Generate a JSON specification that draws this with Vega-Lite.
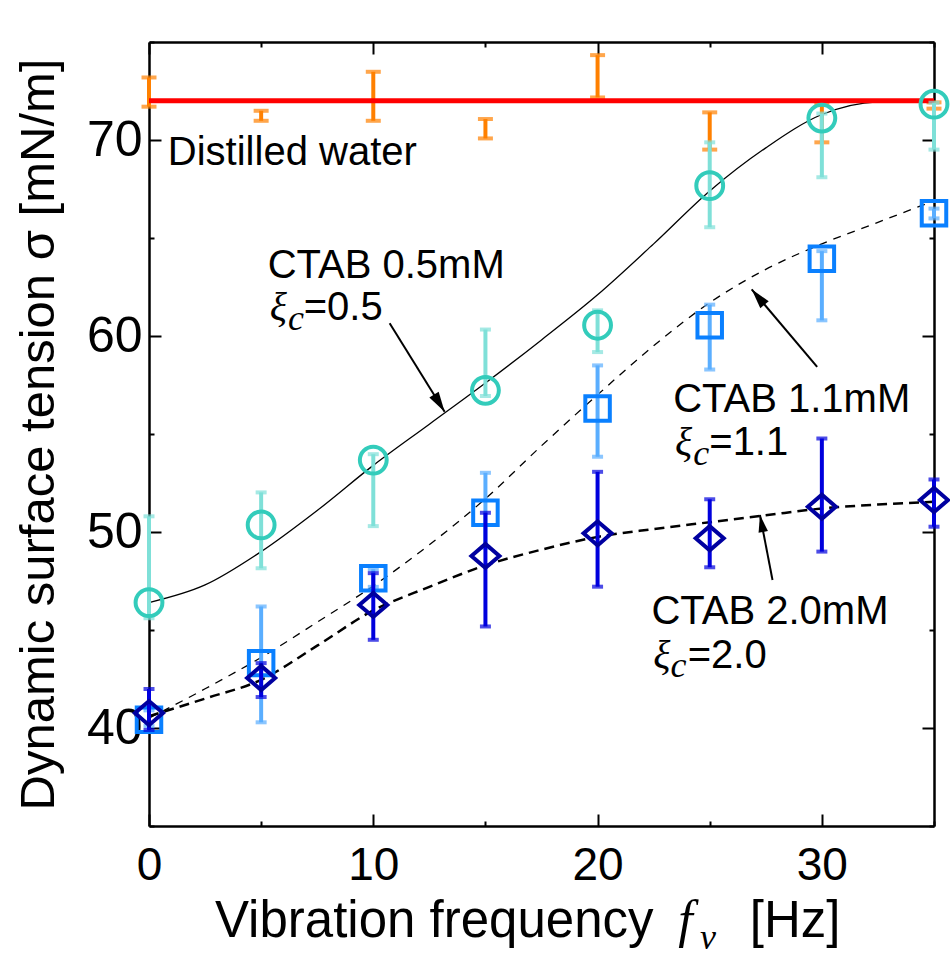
{
  "$schema": "https://vega.github.io/schema/vega-lite/v6.json",
  "width": 785,
  "height": 784,
  "autosize": {"type": "none"},
  "padding": {"left": 149, "top": 42, "right": 16, "bottom": 130},
  "background": "white",
  "datasets": {
    "water": [
      {"f": 0, "lo": 71.70, "hi": 73.19},
      {"f": 5, "lo": 70.98, "hi": 71.49},
      {"f": 10, "lo": 70.98, "hi": 73.48},
      {"f": 15, "lo": 70.08, "hi": 71.07},
      {"f": 20, "lo": 72.17, "hi": 74.33},
      {"f": 25, "lo": 69.51, "hi": 71.41},
      {"f": 30, "lo": 69.88, "hi": 71.83},
      {"f": 35, "lo": 71.60, "hi": 71.92}
    ],
    "waterline": [{"f": 0, "f2": 35, "sigma": 72.0}],
    "meas": [
      {"s": "c05", "f": 0, "sigma": 46.4, "lo": 45.6, "hi": 50.8},
      {"s": "c05", "f": 5, "sigma": 50.36, "lo": 48.15, "hi": 52.02},
      {"s": "c05", "f": 10, "sigma": 53.67, "lo": 50.3, "hi": 53.97},
      {"s": "c05", "f": 15, "sigma": 57.23, "lo": 56.94, "hi": 60.33},
      {"s": "c05", "f": 20, "sigma": 60.55, "lo": 59.18, "hi": 61.31},
      {"s": "c05", "f": 25, "sigma": 67.67, "lo": 65.55, "hi": 69.88},
      {"s": "c05", "f": 30, "sigma": 71.12, "lo": 68.1, "hi": 71.35},
      {"s": "c05", "f": 35, "sigma": 71.83, "lo": 69.51, "hi": 71.9},
      {"s": "c11", "f": 0, "sigma": 40.42, "lo": 40.1, "hi": 40.9},
      {"s": "c11", "f": 5, "sigma": 43.31, "lo": 40.29, "hi": 46.2},
      {"s": "c11", "f": 10, "sigma": 47.64, "lo": 47.2, "hi": 48.1},
      {"s": "c11", "f": 15, "sigma": 50.98, "lo": 49.2, "hi": 53.02},
      {"s": "c11", "f": 20, "sigma": 56.3, "lo": 53.84, "hi": 58.5},
      {"s": "c11", "f": 25, "sigma": 60.55, "lo": 58.29, "hi": 61.6},
      {"s": "c11", "f": 30, "sigma": 63.94, "lo": 60.8, "hi": 64.33},
      {"s": "c11", "f": 35, "sigma": 66.26, "lo": 66.0, "hi": 66.5},
      {"s": "c20", "f": 0, "sigma": 40.76, "lo": 39.9, "hi": 41.99},
      {"s": "c20", "f": 5, "sigma": 42.55, "lo": 41.58, "hi": 43.31},
      {"s": "c20", "f": 10, "sigma": 46.28, "lo": 44.5, "hi": 47.9},
      {"s": "c20", "f": 15, "sigma": 48.78, "lo": 45.18, "hi": 50.98},
      {"s": "c20", "f": 20, "sigma": 49.93, "lo": 47.21, "hi": 53.07},
      {"s": "c20", "f": 25, "sigma": 49.68, "lo": 48.2, "hi": 51.67},
      {"s": "c20", "f": 30, "sigma": 51.29, "lo": 49.0, "hi": 54.77},
      {"s": "c20", "f": 35, "sigma": 51.63, "lo": 50.27, "hi": 52.68}
    ],
    "fits": [
      {"c": "c05", "f": 0, "sigma": 46.4},
      {"c": "c05", "f": 2.5, "sigma": 47.3},
      {"c": "c05", "f": 5, "sigma": 49.0},
      {"c": "c05", "f": 7.5, "sigma": 51.1},
      {"c": "c05", "f": 10, "sigma": 53.4},
      {"c": "c05", "f": 12.5, "sigma": 55.5},
      {"c": "c05", "f": 15, "sigma": 57.6},
      {"c": "c05", "f": 17.5, "sigma": 59.8},
      {"c": "c05", "f": 20, "sigma": 62.1},
      {"c": "c05", "f": 22.5, "sigma": 64.7},
      {"c": "c05", "f": 25, "sigma": 67.4},
      {"c": "c05", "f": 27.5, "sigma": 69.6},
      {"c": "c05", "f": 30, "sigma": 71.3},
      {"c": "c05", "f": 32.5, "sigma": 71.95},
      {"c": "c05", "f": 35, "sigma": 72.0},
      {"c": "c11", "f": 0, "sigma": 40.5},
      {"c": "c11", "f": 2.5, "sigma": 42.0},
      {"c": "c11", "f": 5, "sigma": 43.6},
      {"c": "c11", "f": 7.5, "sigma": 45.4},
      {"c": "c11", "f": 10, "sigma": 47.25},
      {"c": "c11", "f": 12.5, "sigma": 49.35},
      {"c": "c11", "f": 15, "sigma": 51.7},
      {"c": "c11", "f": 17.5, "sigma": 54.4},
      {"c": "c11", "f": 20, "sigma": 57.0},
      {"c": "c11", "f": 22.5, "sigma": 59.5},
      {"c": "c11", "f": 25, "sigma": 61.7},
      {"c": "c11", "f": 27.5, "sigma": 63.4},
      {"c": "c11", "f": 30, "sigma": 64.7},
      {"c": "c11", "f": 32.5, "sigma": 65.8},
      {"c": "c11", "f": 35, "sigma": 66.9},
      {"c": "c20", "f": 0, "sigma": 40.6},
      {"c": "c20", "f": 2.5, "sigma": 41.5},
      {"c": "c20", "f": 5, "sigma": 42.46},
      {"c": "c20", "f": 7.5, "sigma": 44.2},
      {"c": "c20", "f": 10, "sigma": 46.0},
      {"c": "c20", "f": 12.5, "sigma": 47.2},
      {"c": "c20", "f": 15, "sigma": 48.3},
      {"c": "c20", "f": 17.5, "sigma": 49.1},
      {"c": "c20", "f": 20, "sigma": 49.75},
      {"c": "c20", "f": 22.5, "sigma": 50.15},
      {"c": "c20", "f": 25, "sigma": 50.5},
      {"c": "c20", "f": 27.5, "sigma": 50.85},
      {"c": "c20", "f": 30, "sigma": 51.2},
      {"c": "c20", "f": 32.5, "sigma": 51.4},
      {"c": "c20", "f": 35, "sigma": 51.54}
    ],
    "arrows": [
      {"id": "a05", "f": 10.73, "sigma": 60.65, "f2": 13.18, "sigma2": 56.14},
      {"id": "a11", "f": 29.79, "sigma": 58.43, "f2": 26.87, "sigma2": 62.38},
      {"id": "a20", "f": 27.80, "sigma": 47.55, "f2": 27.24, "sigma2": 50.87}
    ],
    "notes": [
      {"k": "sans", "t": "Distilled water", "f": 0.84, "sigma": 68.72},
      {"k": "sans", "t": "CTAB 0.5mM", "f": 5.29, "sigma": 62.97},
      {"k": "sans", "t": "=0.5", "f": 6.9, "sigma": 60.82},
      {"k": "sans", "t": "CTAB 1.1mM", "f": 23.37, "sigma": 56.14},
      {"k": "sans", "t": "=1.1", "f": 24.98, "sigma": 53.93},
      {"k": "sans", "t": "CTAB 2.0mM", "f": 22.4, "sigma": 45.31},
      {"k": "sans", "t": "=2.0", "f": 24.02, "sigma": 43.05},
      {"k": "xi", "t": "ξ", "f": 5.38, "sigma": 60.82},
      {"k": "c", "t": "c", "f": 6.2, "sigma": 60.31},
      {"k": "xi", "t": "ξ", "f": 23.45, "sigma": 53.93},
      {"k": "c", "t": "c", "f": 24.27, "sigma": 53.42},
      {"k": "xi", "t": "ξ", "f": 22.48, "sigma": 43.05},
      {"k": "c", "t": "c", "f": 23.25, "sigma": 42.62},
      {"k": "fvf", "t": "f", "f": 23.6, "sigma": 29.34},
      {"k": "fvv", "t": "v", "f": 24.57, "sigma": 28.7},
      {"k": "hz", "t": "[Hz]", "f": 26.79, "sigma": 29.35}
    ]
  },
  "layer": [
    {
      "layer": [
        {
          "data": {"name": "fits"},
          "transform": [{"filter": "datum.c === 'c05'"}],
          "mark": {"type": "line", "color": "black", "strokeWidth": 1.3, "interpolate": "monotone"},
          "encoding": {
            "x": {"field": "f", "type": "quantitative", "scale": {"domain": [0, 35], "nice": false, "zero": false}, "axis": null},
            "y": {"field": "sigma", "type": "quantitative", "scale": {"domain": [35, 75], "nice": false, "zero": false}, "axis": null}
          }
        },
        {
          "data": {"name": "fits"},
          "transform": [{"filter": "datum.c === 'c11'"}],
          "mark": {"type": "line", "color": "black", "strokeWidth": 1.3, "strokeDash": [8, 7], "interpolate": "monotone"},
          "encoding": {
            "x": {"field": "f", "type": "quantitative", "scale": {"domain": [0, 35], "nice": false, "zero": false}, "axis": null},
            "y": {"field": "sigma", "type": "quantitative", "scale": {"domain": [35, 75], "nice": false, "zero": false}, "axis": null}
          }
        },
        {
          "data": {"name": "fits"},
          "transform": [{"filter": "datum.c === 'c20'"}],
          "mark": {"type": "line", "color": "black", "strokeWidth": 2.5, "strokeDash": [10, 6], "interpolate": "monotone"},
          "encoding": {
            "x": {"field": "f", "type": "quantitative", "scale": {"domain": [0, 35], "nice": false, "zero": false}, "axis": null},
            "y": {"field": "sigma", "type": "quantitative", "scale": {"domain": [35, 75], "nice": false, "zero": false}, "axis": null}
          }
        },
        {
          "data": {"name": "water"},
          "mark": {"type": "errorbar", "color": "#FF8000", "rule": {"strokeWidth": 4}, "ticks": {"size": 15, "thickness": 4}},
          "encoding": {
            "x": {"field": "f", "type": "quantitative", "scale": {"domain": [0, 35], "nice": false, "zero": false}, "axis": null},
            "y": {"field": "lo", "type": "quantitative", "scale": {"domain": [35, 75], "nice": false, "zero": false}, "axis": null},
            "y2": {"field": "hi"}
          }
        },
        {
          "data": {"name": "waterline"},
          "mark": {"type": "rule", "color": "#FF0000", "strokeWidth": 5},
          "encoding": {
            "x": {"field": "f", "type": "quantitative", "scale": {"domain": [0, 35], "nice": false, "zero": false}, "axis": null},
            "x2": {"field": "f2"},
            "y": {"field": "sigma", "type": "quantitative", "scale": {"domain": [35, 75], "nice": false, "zero": false}, "axis": null}
          }
        },
        {
          "data": {"name": "meas"},
          "transform": [{"filter": "datum.s === 'c05'"}],
          "mark": {"type": "errorbar", "color": "#7FE0D8", "rule": {"strokeWidth": 4}, "ticks": {"size": 11, "thickness": 4}},
          "encoding": {
            "x": {"field": "f", "type": "quantitative", "scale": {"domain": [0, 35], "nice": false, "zero": false}, "axis": null},
            "y": {"field": "lo", "type": "quantitative", "scale": {"domain": [35, 75], "nice": false, "zero": false}, "axis": null},
            "y2": {"field": "hi"}
          }
        },
        {
          "data": {"name": "meas"},
          "transform": [{"filter": "datum.s === 'c05'"}],
          "mark": {"type": "point", "shape": "circle", "filled": false, "color": "#33CCBB", "strokeWidth": 4, "size": 720, "opacity": 1},
          "encoding": {
            "x": {"field": "f", "type": "quantitative", "scale": {"domain": [0, 35], "nice": false, "zero": false}, "axis": null},
            "y": {"field": "sigma", "type": "quantitative", "scale": {"domain": [35, 75], "nice": false, "zero": false}, "axis": null}
          }
        },
        {
          "data": {"name": "meas"},
          "transform": [{"filter": "datum.s === 'c11'"}],
          "mark": {"type": "errorbar", "color": "#5AAEFF", "rule": {"strokeWidth": 4}, "ticks": {"size": 11, "thickness": 4}},
          "encoding": {
            "x": {"field": "f", "type": "quantitative", "scale": {"domain": [0, 35], "nice": false, "zero": false}, "axis": null},
            "y": {"field": "lo", "type": "quantitative", "scale": {"domain": [35, 75], "nice": false, "zero": false}, "axis": null},
            "y2": {"field": "hi"}
          }
        },
        {
          "data": {"name": "meas"},
          "transform": [{"filter": "datum.s === 'c11'"}],
          "mark": {"type": "point", "shape": "square", "filled": false, "color": "#0A80FF", "strokeWidth": 4, "size": 600, "opacity": 1},
          "encoding": {
            "x": {"field": "f", "type": "quantitative", "scale": {"domain": [0, 35], "nice": false, "zero": false}, "axis": null},
            "y": {"field": "sigma", "type": "quantitative", "scale": {"domain": [35, 75], "nice": false, "zero": false}, "axis": null}
          }
        },
        {
          "data": {"name": "meas"},
          "transform": [{"filter": "datum.s === 'c20'"}],
          "mark": {"type": "errorbar", "color": "#0000DD", "rule": {"strokeWidth": 4}, "ticks": {"size": 11, "thickness": 4}},
          "encoding": {
            "x": {"field": "f", "type": "quantitative", "scale": {"domain": [0, 35], "nice": false, "zero": false}, "axis": null},
            "y": {"field": "lo", "type": "quantitative", "scale": {"domain": [35, 75], "nice": false, "zero": false}, "axis": null},
            "y2": {"field": "hi"}
          }
        },
        {
          "data": {"name": "meas"},
          "transform": [{"filter": "datum.s === 'c20'"}],
          "mark": {"type": "point", "shape": "M-1,0L0,-0.86L1,0L0,0.86Z", "filled": false, "color": "#0000A0", "strokeWidth": 4, "size": 784, "opacity": 1},
          "encoding": {
            "x": {"field": "f", "type": "quantitative", "scale": {"domain": [0, 35], "nice": false, "zero": false}, "axis": null},
            "y": {"field": "sigma", "type": "quantitative", "scale": {"domain": [35, 75], "nice": false, "zero": false}, "axis": null}
          }
        },
        {
          "data": {"name": "arrows"},
          "mark": {"type": "rule", "color": "black", "strokeWidth": 2},
          "encoding": {
            "x": {"field": "f", "type": "quantitative", "scale": {"domain": [0, 35], "nice": false, "zero": false}, "axis": null},
            "x2": {"field": "f2"},
            "y": {"field": "sigma", "type": "quantitative", "scale": {"domain": [35, 75], "nice": false, "zero": false}, "axis": null},
            "y2": {"field": "sigma2"}
          }
        },
        {
          "data": {"name": "arrows"},
          "transform": [{"filter": "datum.id === 'a05'"}],
          "mark": {"type": "point", "shape": "M0,0L-0.55,2L0.55,2Z", "filled": true, "color": "black", "size": 400, "angle": 148, "opacity": 1, "strokeWidth": 0},
          "encoding": {
            "x": {"field": "f2", "type": "quantitative", "scale": {"domain": [0, 35], "nice": false, "zero": false}, "axis": null},
            "y": {"field": "sigma2", "type": "quantitative", "scale": {"domain": [35, 75], "nice": false, "zero": false}, "axis": null}
          }
        },
        {
          "data": {"name": "arrows"},
          "transform": [{"filter": "datum.id === 'a11'"}],
          "mark": {"type": "point", "shape": "M0,0L-0.55,2L0.55,2Z", "filled": true, "color": "black", "size": 400, "angle": 320, "opacity": 1, "strokeWidth": 0},
          "encoding": {
            "x": {"field": "f2", "type": "quantitative", "scale": {"domain": [0, 35], "nice": false, "zero": false}, "axis": null},
            "y": {"field": "sigma2", "type": "quantitative", "scale": {"domain": [35, 75], "nice": false, "zero": false}, "axis": null}
          }
        },
        {
          "data": {"name": "arrows"},
          "transform": [{"filter": "datum.id === 'a20'"}],
          "mark": {"type": "point", "shape": "M0,0L-0.55,2L0.55,2Z", "filled": true, "color": "black", "size": 300, "angle": 349, "opacity": 1, "strokeWidth": 0},
          "encoding": {
            "x": {"field": "f2", "type": "quantitative", "scale": {"domain": [0, 35], "nice": false, "zero": false}, "axis": null},
            "y": {"field": "sigma2", "type": "quantitative", "scale": {"domain": [35, 75], "nice": false, "zero": false}, "axis": null}
          }
        },
        {
          "data": {"name": "notes"},
          "transform": [{"filter": "datum.k === 'sans'"}],
          "mark": {"type": "text", "font": "Liberation Sans", "fontSize": 40, "align": "left", "baseline": "alphabetic", "color": "black"},
          "encoding": {
            "x": {"field": "f", "type": "quantitative", "scale": {"domain": [0, 35], "nice": false, "zero": false}, "axis": null},
            "y": {"field": "sigma", "type": "quantitative", "scale": {"domain": [35, 75], "nice": false, "zero": false}, "axis": null},
            "text": {"field": "t"}
          }
        },
        {
          "data": {"name": "notes"},
          "transform": [{"filter": "datum.k === 'hz'"}],
          "mark": {"type": "text", "font": "Liberation Sans", "fontSize": 51, "align": "left", "baseline": "alphabetic", "color": "black"},
          "encoding": {
            "x": {"field": "f", "type": "quantitative", "scale": {"domain": [0, 35], "nice": false, "zero": false}, "axis": null},
            "y": {"field": "sigma", "type": "quantitative", "scale": {"domain": [35, 75], "nice": false, "zero": false}, "axis": null},
            "text": {"field": "t"}
          }
        },
        {
          "data": {"name": "notes"},
          "transform": [{"filter": "datum.k === 'xi'"}],
          "mark": {"type": "text", "font": "Liberation Serif", "fontStyle": "italic", "fontSize": 40, "align": "left", "baseline": "alphabetic", "color": "black"},
          "encoding": {
            "x": {"field": "f", "type": "quantitative", "scale": {"domain": [0, 35], "nice": false, "zero": false}, "axis": null},
            "y": {"field": "sigma", "type": "quantitative", "scale": {"domain": [35, 75], "nice": false, "zero": false}, "axis": null},
            "text": {"field": "t"}
          }
        },
        {
          "data": {"name": "notes"},
          "transform": [{"filter": "datum.k === 'c'"}],
          "mark": {"type": "text", "font": "Liberation Serif", "fontStyle": "italic", "fontSize": 36, "align": "left", "baseline": "alphabetic", "color": "black"},
          "encoding": {
            "x": {"field": "f", "type": "quantitative", "scale": {"domain": [0, 35], "nice": false, "zero": false}, "axis": null},
            "y": {"field": "sigma", "type": "quantitative", "scale": {"domain": [35, 75], "nice": false, "zero": false}, "axis": null},
            "text": {"field": "t"}
          }
        },
        {
          "data": {"name": "notes"},
          "transform": [{"filter": "datum.k === 'fvf'"}],
          "mark": {"type": "text", "font": "Liberation Serif", "fontStyle": "italic", "fontSize": 52, "align": "left", "baseline": "alphabetic", "color": "black"},
          "encoding": {
            "x": {"field": "f", "type": "quantitative", "scale": {"domain": [0, 35], "nice": false, "zero": false}, "axis": null},
            "y": {"field": "sigma", "type": "quantitative", "scale": {"domain": [35, 75], "nice": false, "zero": false}, "axis": null},
            "text": {"field": "t"}
          }
        },
        {
          "data": {"name": "notes"},
          "transform": [{"filter": "datum.k === 'fvv'"}],
          "mark": {"type": "text", "font": "Liberation Serif", "fontStyle": "italic", "fontSize": 36, "align": "left", "baseline": "alphabetic", "color": "black"},
          "encoding": {
            "x": {"field": "f", "type": "quantitative", "scale": {"domain": [0, 35], "nice": false, "zero": false}, "axis": null},
            "y": {"field": "sigma", "type": "quantitative", "scale": {"domain": [35, 75], "nice": false, "zero": false}, "axis": null},
            "text": {"field": "t"}
          }
        }
      ]
    },
    {
      "data": {"name": "water"},
      "mark": {"type": "point", "opacity": 0},
      "encoding": {
        "x": {"field": "f", "type": "quantitative", "scale": {"domain": [0, 35], "nice": false, "zero": false},
          "axis": {"orient": "bottom", "values": [0, 5, 10, 15, 20, 25, 30, 35],
            "labelExpr": "datum.value % 10 === 0 ? datum.label : ''",
            "tickSize": {"condition": {"test": "datum.value % 10 === 0", "value": -12}, "value": -5},
            "labelPadding": 29.6, "labelFontSize": 46, "labelFlush": false, "labelOverlap": false, "labelBound": false,
            "title": "Vibration frequency",
            "titleFontSize": 51, "titleX": 65.5, "titleY": 110.7, "titleAlign": "left", "titleBaseline": "alphabetic"}},
        "y": {"field": "hi", "type": "quantitative", "scale": {"domain": [35, 75], "nice": false, "zero": false},
          "axis": {"orient": "left", "values": [35, 40, 45, 50, 55, 60, 65, 70, 75],
            "labelExpr": "datum.value % 10 === 0 ? datum.label : ''",
            "tickSize": {"condition": {"test": "datum.value % 10 === 0", "value": -12}, "value": -5},
            "labelPadding": 19, "labelFontSize": 50, "labelOverlap": false, "labelBound": false, "labelFlush": false,
            "title": "Dynamic surface tension σ [mN/m]",
            "titleFontSize": 49, "titleX": -96, "titleY": 392, "titleAngle": -90, "titleAlign": "center", "titleBaseline": "alphabetic"}}
      }
    },
    {
      "data": {"name": "water"},
      "mark": {"type": "point", "opacity": 0},
      "encoding": {
        "x": {"field": "f", "type": "quantitative", "scale": {"domain": [0, 35], "nice": false, "zero": false},
          "axis": {"orient": "top", "values": [0, 5, 10, 15, 20, 25, 30, 35], "labels": false, "title": null,
            "tickSize": {"condition": {"test": "datum.value % 10 === 0", "value": -12}, "value": -5}}},
        "y": {"field": "hi", "type": "quantitative", "scale": {"domain": [35, 75], "nice": false, "zero": false},
          "axis": {"orient": "right", "values": [35, 40, 45, 50, 55, 60, 65, 70, 75], "labels": false, "title": null,
            "tickSize": {"condition": {"test": "datum.value % 10 === 0", "value": -12}, "value": -5}}}
      }
    }
  ],
  "resolve": {"axis": {"x": "independent", "y": "independent"}},
  "config": {
    "view": {"stroke": null},
    "axis": {
      "grid": false,
      "domainColor": "black",
      "domainWidth": 2.5,
      "tickColor": "black",
      "tickWidth": 2,
      "labelFont": "Liberation Sans",
      "titleFont": "Liberation Sans",
      "labelColor": "black",
      "titleColor": "black",
      "titleFontWeight": "normal"
    },
    "text": {"font": "Liberation Sans"}
  }
}
